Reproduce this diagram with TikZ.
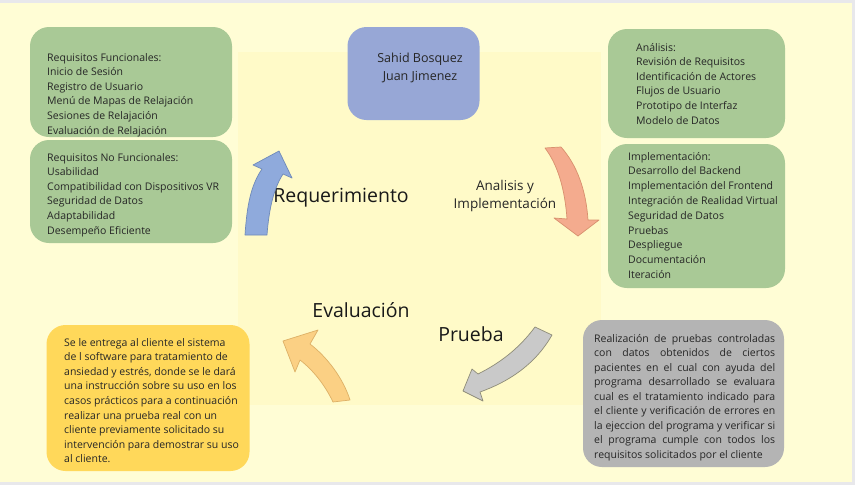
\documentclass[tikz,border=0pt]{standalone}
\usepackage{fontspec}
\setmainfont{Open Sans}
\definecolor{pagebg}{HTML}{FFFDD5}
\definecolor{innerbg}{HTML}{FFFAC8}
\definecolor{frame}{HTML}{E8E8EB}
\definecolor{cardgreen}{HTML}{A9C996}
\definecolor{cardblue}{HTML}{97A7D6}
\definecolor{cardgray}{HTML}{B4B4B4}
\definecolor{cardyellow}{HTML}{FFD85A}
\definecolor{textc}{HTML}{262626}
\definecolor{arBfill}{HTML}{8FAADC}
\definecolor{arBline}{HTML}{6F8AB8}
\definecolor{arSfill}{HTML}{F4AB8E}
\definecolor{arSline}{HTML}{D8906E}
\definecolor{arGfill}{HTML}{C9C9C9}
\definecolor{arGline}{HTML}{8E8C78}
\definecolor{arOfill}{HTML}{FBD084}
\definecolor{arOline}{HTML}{DDB066}
\begin{document}
\begin{tikzpicture}[x=1pt,y=-1pt,
  card/.style={rounded corners=19pt, inner sep=0pt, draw=none},
  txt/.style={inner sep=0pt, anchor=base west, text=textc, font=\fontsize{10.5}{14.6}\selectfont},
  big/.style={inner sep=0pt, anchor=base, text=black!90, font=\fontsize{19.5}{22}\selectfont},
  blockarrow/.style={line width=0.7pt, line join=round}
]
\path[use as bounding box, fill=frame] (0,0) rectangle (855,485);
\fill[pagebg] (0,3) rectangle (852,482);
\fill[innerbg] (238,52) rectangle (601,405);

% cards
\node[card, fill=cardgreen, minimum width=202pt, minimum height=110pt] (rf) at (131,82) {};
\node[card, fill=cardgreen, minimum width=202pt, minimum height=103pt] (rnf) at (131,191.5) {};
\node[card, fill=cardblue, minimum width=132pt, minimum height=93pt] (auth) at (413.5,73.5) {};
\node[card, fill=cardgreen, minimum width=177pt, minimum height=109pt] (ana) at (696.5,83.5) {};
\node[card, fill=cardgreen, minimum width=177pt, minimum height=144pt] (imp) at (696.5,216) {};
\node[card, fill=cardgray, minimum width=201pt, minimum height=147pt] (pru) at (683.5,393.5) {};
\node[card, fill=cardyellow, minimum width=203pt, minimum height=146pt] (eva) at (148,398) {};

% card texts
\node[txt] (rft) at (47,61) {\begin{tabular}[t]{@{}l@{}}Requisitos Funcionales:\\Inicio de Sesión\\Registro de Usuario\\Menú de Mapas de Relajación\\Sesiones de Relajación\\Evaluación de Relajación\end{tabular}};
\node[txt] (rnft) at (47,161) {\begin{tabular}[t]{@{}l@{}}Requisitos No Funcionales:\\Usabilidad\\Compatibilidad con Dispositivos VR\\Seguridad de Datos\\Adaptabilidad\\Desempeño Eficiente\end{tabular}};
\node[inner sep=0pt, anchor=base, text=textc, font=\fontsize{12.5}{18}\selectfont] (autht) at (420,62) {\begin{tabular}[t]{@{}c@{}}Sahid Bosquez\\Juan Jimenez\end{tabular}};
\node[txt] (anat) at (636,51) {\begin{tabular}[t]{@{}l@{}}Análisis:\\Revisión de Requisitos\\Identificación de Actores\\Flujos de Usuario\\Prototipo de Interfaz\\Modelo de Datos\end{tabular}};
\node[txt, font=\fontsize{10.5}{14.8}\selectfont] (impt) at (628,160) {\begin{tabular}[t]{@{}l@{}}Implementación:\\Desarrollo del Backend\\Implementación del Frontend\\Integración de Realidad Virtual\\Seguridad de Datos\\Pruebas\\Despliegue\\Documentación\\Iteración\end{tabular}};
\node[txt, font=\fontsize{10.5}{14.5}\selectfont] (prut) at (594,342) {\begin{tabular}[t]{@{}l@{}}%
\makebox[181pt][s]{Realización de pruebas controladas}\\
\makebox[181pt][s]{con datos obtenidos de ciertos}\\
\makebox[181pt][s]{pacientes en el cual con ayuda del}\\
\makebox[181pt][s]{programa desarrollado se evaluara}\\
\makebox[181pt][s]{cual es el tratamiento indicado para}\\
\makebox[181pt][s]{el cliente y verificación de errores en}\\
\makebox[181pt][s]{la ejeccion del programa y verificar si}\\
\makebox[181pt][s]{el programa cumple con todos los}\\
requisitos solicitados por el cliente\end{tabular}};
\node[txt] (evat) at (64,346) {\begin{tabular}[t]{@{}l@{}}Se le entrega al cliente el sistema\\de l software para tratamiento de\\ansiedad y estrés, donde se le dará\\una instrucción sobre su uso en los\\casos prácticos para a continuación\\realizar una prueba real con un\\cliente previamente solicitado su\\intervención para demostrar su uso\\al cliente.\end{tabular}};

% phase labels
\node[big] (lreq) at (341,202) {Requerimiento};
\node[big] (leva) at (361,317) {Evaluación};
\node[big] (lpru) at (471,341) {Prueba};
\node[inner sep=0pt, anchor=base, text=textc, font=\fontsize{13.5}{18}\selectfont] (lana) at (505,190) {\begin{tabular}[t]{@{}c@{}}Analisis y\\Implementación\end{tabular}};

% curved block arrows
\draw[blockarrow, fill=arBfill, draw=arBline] (245,235) .. controls (247,205) and (251,185) .. (262,169) -- (253,165) -- (279,151) -- (292,178) -- (283,174) .. controls (274,188) and (269,208) .. (267,235) -- cycle;
\draw[blockarrow, fill=arSfill, draw=arSline] (545,148) .. controls (558,165) and (565,190) .. (567,219) -- (554,218) -- (578,236) -- (599,220) -- (588,220) .. controls (586,190) and (577,165) .. (561,147) -- cycle;
\draw[blockarrow, fill=arGfill, draw=arGline] (535,327) .. controls (518,350) and (498,364) .. (478,374) -- (472,369) -- (463,391) -- (483,401) -- (480,392) .. controls (508,382) and (535,365) .. (552,335) -- cycle;
\draw[blockarrow, fill=arOfill, draw=arOline] (333,402) .. controls (325,385) and (313,370) .. (300,360) -- (295,372) -- (283,341) -- (318,330) -- (310,344) .. controls (327,357) and (343,378) .. (350,400) -- cycle;
\end{tikzpicture}
\end{document}
